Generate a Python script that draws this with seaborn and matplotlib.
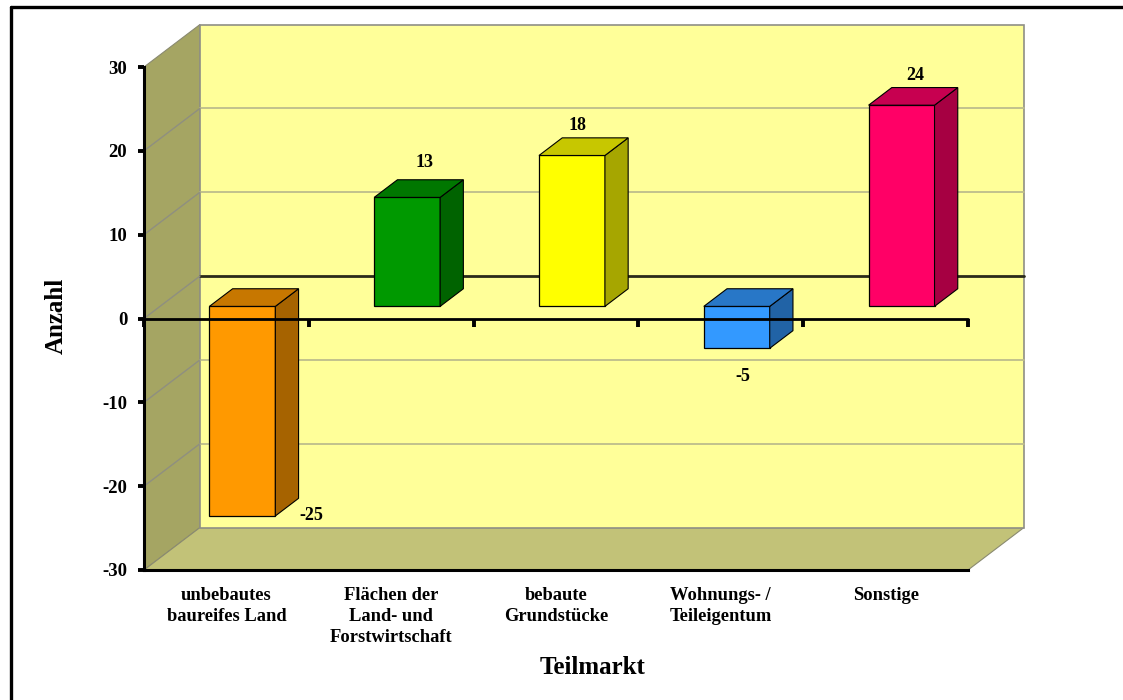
import numpy as np
import pandas as pd
import seaborn as sns
import matplotlib
matplotlib.use("Agg")
import matplotlib.pyplot as plt
from matplotlib.lines import Line2D
from matplotlib.patches import Polygon, Rectangle
from matplotlib.transforms import Affine2D

categories = ["unbebautes\nbaureifes Land", "Flächen der\nLand- und\nForstwirtschaft",
              "bebaute\nGrundstücke", "Wohnungs- /\nTeileigentum", "Sonstige"]
values = [-25, 13, 18, -5, 24]
y_ticks = [-30, -20, -10, 0, 10, 20, 30]
front_colors = ["#FF9900", "#009900", "#FFFF00", "#3399FF", "#FF0066"]
top_colors = ["#C77700", "#007700", "#C7C700", "#2877C7", "#C70050"]
side_colors = ["#A66300", "#006300", "#A6A600", "#2163A6", "#A60042"]
label_offsets_px = [(69, 0), (17, 35), (6, 30), (6, -28), (14, 30)]

W, H = 1123, 700
L, R, T, B = 144, 968, 67, 570
sns.set_style("white")
plt.rcParams["font.family"] = ["Liberation Serif", "DejaVu Serif"]
plt.rcParams["font.weight"] = "bold"
plt.rcParams["axes.unicode_minus"] = False
plt.rcParams["text.color"] = "black"
plt.rcParams["axes.labelcolor"] = "black"
plt.rcParams["xtick.labelcolor"] = "black"
plt.rcParams["ytick.labelcolor"] = "black"

fig = plt.figure(figsize=(W / 100, H / 100), dpi=100)
ax = fig.add_axes([L / W, 1 - B / H, (R - L) / W, (B - T) / H])
ax.patch.set_alpha(0)

df = pd.DataFrame({"Teilmarkt": categories, "Anzahl": values})
sns.barplot(data=df, x="Teilmarkt", y="Anzahl", hue="Teilmarkt", palette=front_colors,
            order=categories, hue_order=categories, legend=False, width=0.4,
            saturation=1, edgecolor="black", linewidth=0.9, ax=ax, zorder=5)
bars = sorted([p for p in ax.patches if isinstance(p, Rectangle) and p.get_width() > 0],
              key=lambda p: p.get_x())
ax.set_xlim(-0.5, 4.5)
ax.set_ylim(-30, 30)

px_x = (R - L) / 5
px_y = (B - T) / 60
depth_x, depth_y = 56 / px_x, 42.5 / px_y
bar_front = 0.285   # fraction of the chart depth where the bars begin
bar_back = 0.70
x0, x1 = -0.5, 4.5
y0, y1 = -30, 30

# Walls
ax.add_patch(Polygon([(x0, y0), (x0 + depth_x, y0 + depth_y), (x0 + depth_x, y1 + depth_y), (x0, y1)],
                     fc="#A5A563", ec="#8a8a70", lw=0.8, clip_on=False, zorder=1))
ax.add_patch(Polygon([(x0, y0), (x1, y0), (x1 + depth_x, y0 + depth_y), (x0 + depth_x, y0 + depth_y)],
                     fc="#C2C278", ec="#8a8a70", lw=0.8, clip_on=False, zorder=1))
ax.add_patch(Polygon([(x0 + depth_x, y0 + depth_y), (x1 + depth_x, y0 + depth_y),
                      (x1 + depth_x, y1 + depth_y), (x0 + depth_x, y1 + depth_y)],
                     fc="#FFFF99", ec="#8f8f85", lw=1.2, clip_on=False, zorder=1))

# Gridlines
for t in y_ticks[1:-1]:
    zero = t == 0
    ax.plot([x0 + depth_x, x1 + depth_x], [t + depth_y] * 2, clip_on=False, zorder=2,
            color="#2a2a1a" if zero else "#BDBD8C", lw=2.0 if zero else 1.3)
    ax.plot([x0, x0 + depth_x], [t, t + depth_y], clip_on=False, zorder=2, color="#8f8f80", lw=1.0)

# 3D bars built from the seaborn bars
dx_f, dy_f = depth_x * bar_front, depth_y * bar_front
dx_b, dy_b = depth_x * (bar_back - bar_front), depth_y * (bar_back - bar_front)
for i, bar in enumerate(bars):
    a = bar.get_x() + dx_f
    b = a + bar.get_width()
    base = dy_f
    tip = bar.get_height() + dy_f
    lo, hi = min(base, tip), max(base, tip)
    bar.set_transform(Affine2D().translate(dx_f, dy_f) + ax.transData)
    bar.set_clip_on(False)
    ax.add_patch(Polygon([(b, lo), (b + dx_b, lo + dy_b), (b + dx_b, hi + dy_b), (b, hi)],
                         fc=side_colors[i], ec="black", lw=0.8, clip_on=False, zorder=5))
    ax.add_patch(Polygon([(a, hi), (b, hi), (b + dx_b, hi + dy_b), (a + dx_b, hi + dy_b)],
                         fc=top_colors[i], ec="black", lw=0.8, clip_on=False, zorder=5))
    ox, oy = label_offsets_px[i]
    ax.annotate(str(values[i]), ((a + b) / 2, tip), xytext=(ox * 0.72, oy * 0.72),
                textcoords="offset points", ha="center", va="center",
                fontsize=13, fontweight="bold", color="black", zorder=8, annotation_clip=False)

# Zero axis with ticks between the categories
edges = np.arange(x0, x1 + 0.5, 1.0)
ax.plot([x0, x1], [0, 0], color="black", lw=2.0, zorder=7, clip_on=False)
ax.plot(edges, np.zeros_like(edges), ls="none", marker=3, ms=5.5, mew=2.8, color="black",
        zorder=7, clip_on=False)

# Axes
sns.despine(ax=ax, top=True, right=True)
for s in ("left", "bottom"):
    ax.spines[s].set_linewidth(2.2)
    ax.spines[s].set_color("black")
    ax.spines[s].set_zorder(7)
ax.set_yticks(y_ticks)
ax.tick_params(axis="y", left=True, length=4, width=2.8, color="black", pad=8, labelsize=13.5)
ax.tick_params(axis="x", bottom=False, length=0, pad=12, labelsize=13.3)
ax.set_xticks(range(len(categories)))
ax.set_xticklabels(categories, linespacing=1.33, ha="center", fontweight="bold")
for lab in ax.get_yticklabels():
    lab.set_fontweight("bold")
ax.set_xlabel("Teilmarkt", fontsize=18, fontweight="bold")
ax.xaxis.set_label_coords((593 - L) / (R - L), -(667 - B) / (B - T))
ax.xaxis.label.set_va("center")
ax.set_ylabel("Anzahl", fontsize=18, fontweight="bold")
ax.yaxis.set_label_coords((56 - L) / (R - L), (B - 316) / (B - T))
ax.yaxis.label.set_va("center")

# Outer frame (runs off the image on the right and bottom)
fig.add_artist(Line2D([10.5 / W, 10.5 / W], [0, 1 - 6.5 / H], color="black", lw=2.4))
fig.add_artist(Line2D([10.5 / W, 1], [1 - 6.5 / H, 1 - 6.5 / H], color="black", lw=2.4))

fig.savefig("out.png", dpi=100)
